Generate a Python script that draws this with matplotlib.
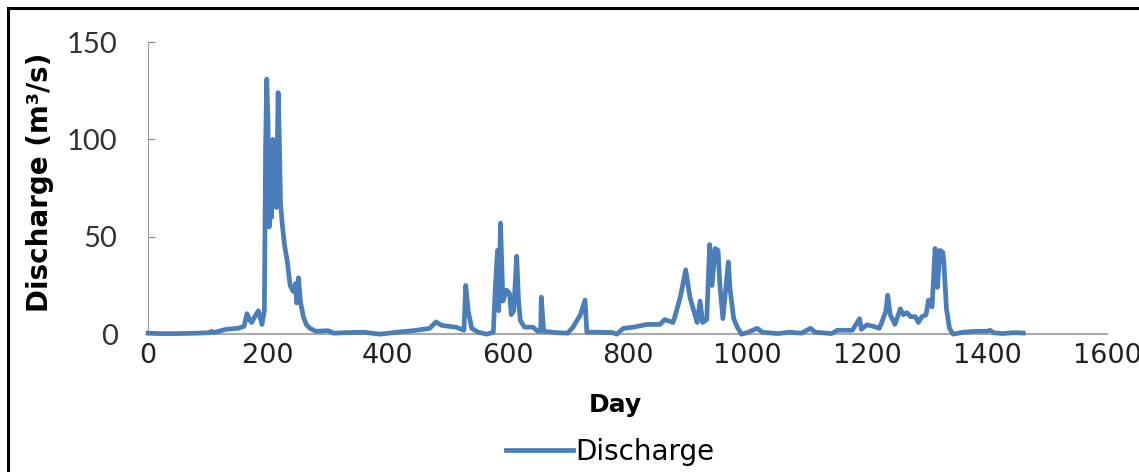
import matplotlib.pyplot as plt
from matplotlib.patches import Rectangle

# readings taken off the original chart (day, discharge m3/s)
day = [0, 20, 50, 80, 104, 106, 110, 130, 150, 160, 165, 170, 173, 178, 184, 190, 194,
       196, 198, 200, 202, 204, 206, 208, 210, 212, 214, 217, 219, 221, 224, 228, 232,
       237, 242, 246, 248, 251, 254, 259, 264, 270, 280, 300, 310, 330, 360, 387, 415,
       443, 470, 480, 490, 515, 527, 530, 534, 540, 551, 565, 576, 579, 583, 585, 588,
       592, 598, 603, 606, 610, 615, 618, 621, 628, 642, 650, 655, 656, 660, 680, 700,
       709, 721, 729, 732, 750, 775, 782, 793, 810, 832, 854, 862, 876, 888, 897, 904,
       916, 921, 925, 932, 937, 941, 946, 951, 954, 959, 968, 971, 977, 983, 990, 1000,
       1016, 1025, 1050, 1070, 1090, 1105, 1113, 1140, 1150, 1175, 1187, 1190, 1199,
       1210, 1220, 1224, 1231, 1234, 1238, 1243, 1246, 1255, 1260, 1266, 1272, 1280,
       1285, 1291, 1298, 1302, 1308, 1313, 1317, 1321, 1326, 1328, 1332, 1337, 1343,
       1360, 1382, 1400, 1405, 1410, 1425, 1445, 1460]
discharge = [0.5, 0.3, 0.3, 0.5, 0.8, 1.5, 0.8, 2.5, 3, 4, 10.5, 7, 6, 9, 12, 5, 12,
             95, 131, 110, 55, 90, 60, 100, 70, 85, 65, 124, 100, 67, 56, 45, 38,
             25, 22, 26, 16, 29, 17, 9, 5, 3, 1.5, 1.8, 0.5, 0.8, 1, 0, 1,
             1.8, 3, 6.3, 4.5, 3.5, 2, 25, 12, 3, 1, 0, 1, 22, 43, 12, 57,
             17, 22.6, 21, 10, 12, 40, 17.5, 7, 3.6, 3.6, 1.5, 1.5, 19, 1.5, 0.8, 0.5,
             3.6, 9.8, 17.5, 1, 1, 0.8, 0, 3, 3.6, 5, 5, 7.5, 6, 19, 33, 19,
             6, 17, 6, 7.5, 46, 25, 44, 43, 25, 8, 37, 23, 8, 3.6, 0, 0.8,
             3, 1, 0.3, 1, 0.5, 3, 1, 0.3, 2, 2, 8, 2.5, 4.8,
             4, 3, 6, 12, 20, 10, 7, 5, 13, 10, 11, 9, 9,
             6, 9, 10, 17.5, 14, 44, 24, 43, 42, 35, 13, 3, 0,
             1, 1.5, 1.5, 2, 0.8, 0.3, 0.8, 0.6]

xticks = [0, 200, 400, 600, 800, 1000, 1200, 1400, 1600]
yticks = [0, 50, 100, 150]

fig = plt.figure(figsize=(11.39, 4.72), dpi=100)
ax = fig.add_axes([0.130, 0.292, 0.842, 0.619])

ax.plot(day, discharge, color='#4a7ebb', lw=3.4, label='Discharge', clip_on=False,
        solid_joinstyle='round', zorder=3)

ax.set_xlim(0, 1600)
ax.set_ylim(0, 150)
ax.set_xticks(xticks)
ax.set_yticks(yticks)
ax.set_xticklabels([str(t) for t in xticks], fontsize=19.5, color='#222222')
ax.set_yticklabels([str(t) for t in yticks], family=['Lato', 'DejaVu Sans'],
                   fontsize=21, color='#333333')
ax.tick_params(axis='x', length=0, pad=6)
ax.tick_params(axis='y', direction='in', length=5, color='#888888', pad=22)

for s in ['top', 'right']:
    ax.spines[s].set_visible(False)
ax.spines['left'].set_color('#999999')
ax.spines['bottom'].set_color('#aaaaaa')
ax.spines['bottom'].set_linewidth(1.5)

ax.set_xlabel('Day', fontsize=18, fontweight='bold')
ax.set_ylabel('Discharge (m³/s)', fontsize=20, fontweight='bold')
ax.xaxis.set_label_coords(0.487, -0.200)
ax.yaxis.set_label_coords(-0.098, 0.52)

leg = fig.legend(loc='center', bbox_to_anchor=(0.536, 0.042), frameon=False,
                 fontsize=20, handlelength=2.4, handletextpad=0.1)

# outer frame of the chart area
fig.patches.append(Rectangle((8 / 1139, -0.1), 1.2, 1.1 - 8 / 472,
                             transform=fig.transFigure, fill=False, ec='black', lw=2.2))

fig.savefig('out.png', dpi=100)
